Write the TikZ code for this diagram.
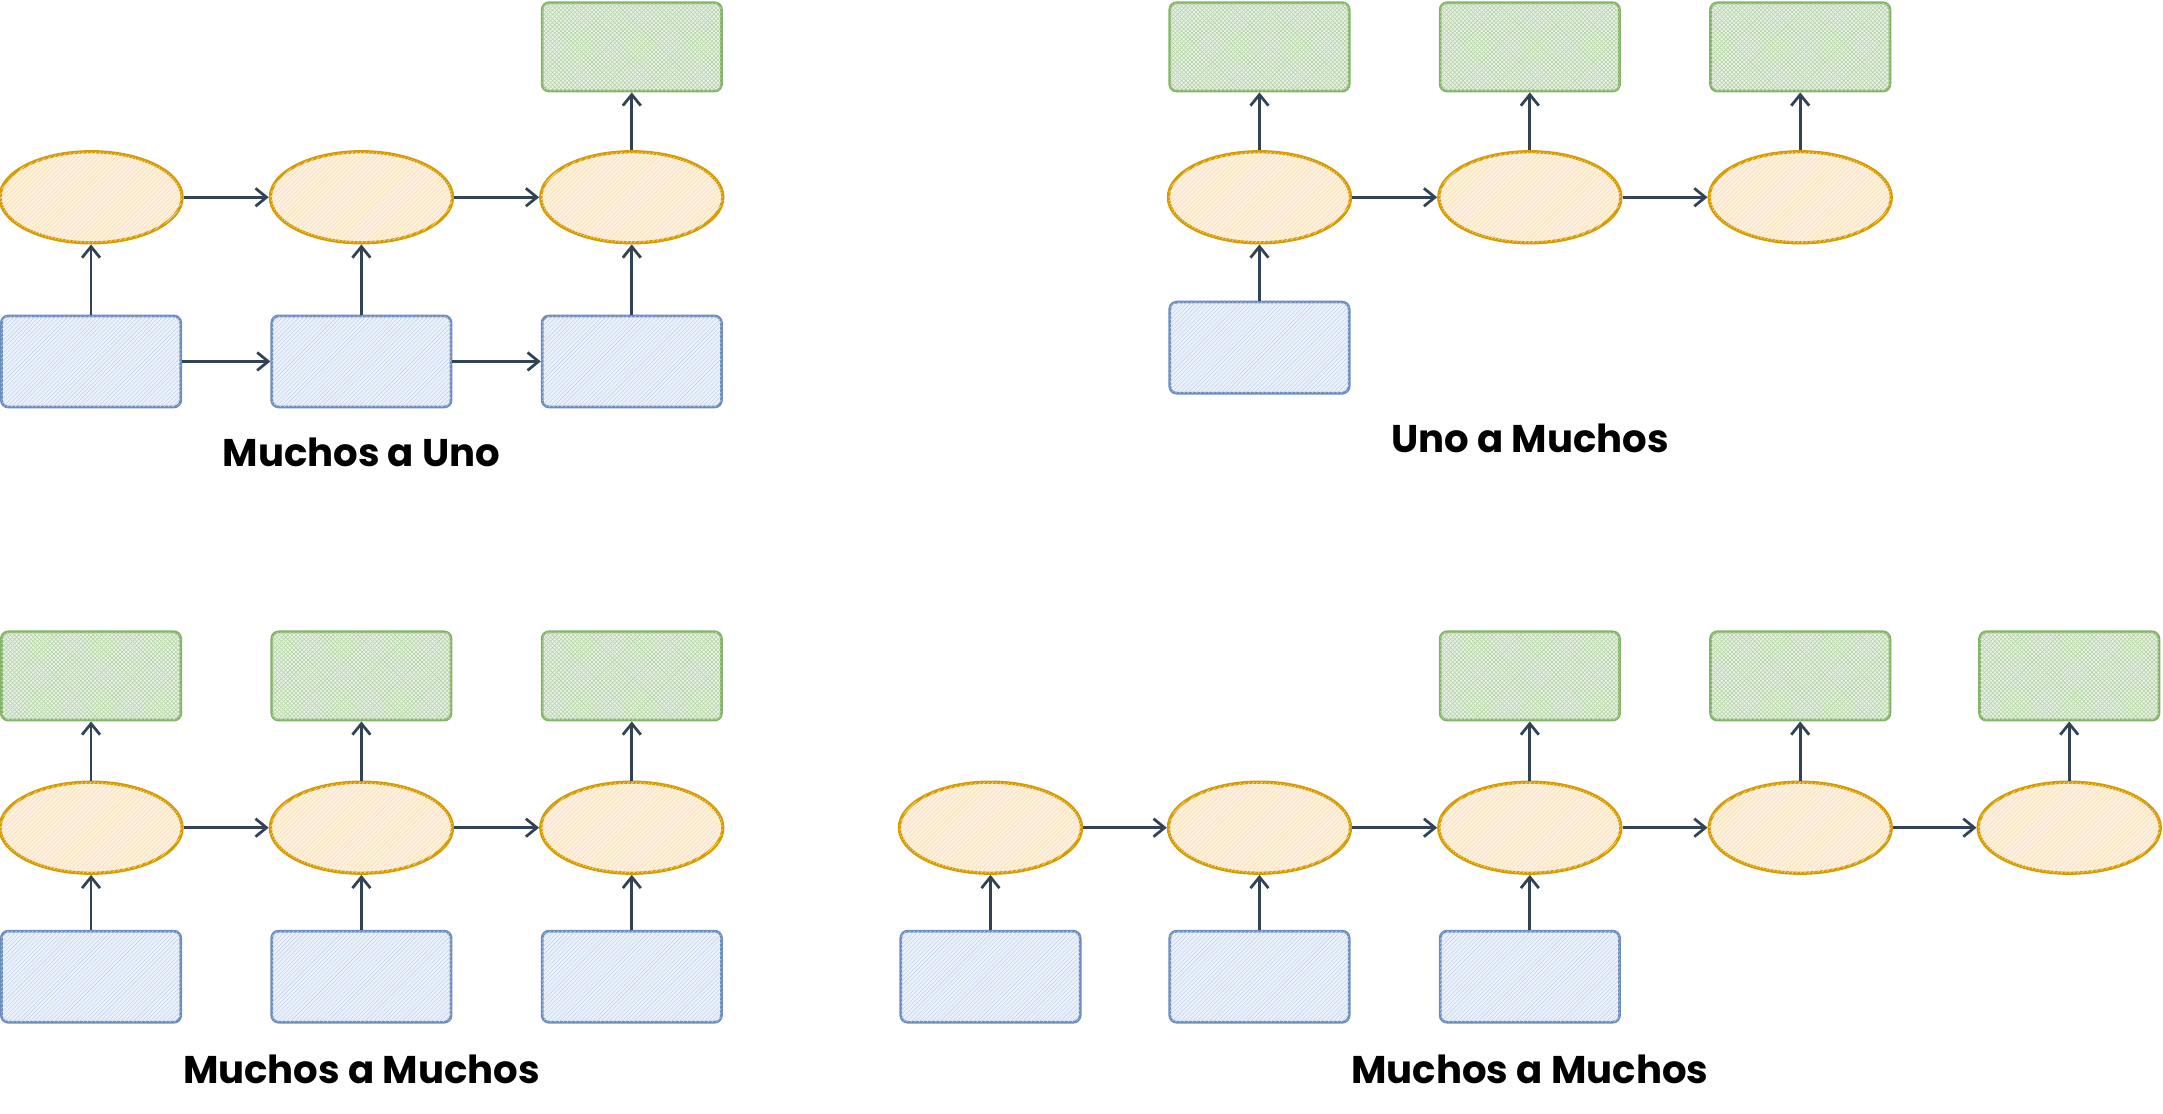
\documentclass[tikz,border=0pt]{standalone}
\usepackage{fontspec}
\setmainfont{Poppins}
\usetikzlibrary{arrows.meta,patterns,shapes.geometric}
\definecolor{bf}{HTML}{DAE8FC}\definecolor{bs}{HTML}{6C8EBF}
\definecolor{of}{HTML}{FFE6CC}\definecolor{os}{HTML}{D79B00}
\definecolor{gf}{HTML}{D5E8D4}\definecolor{gs}{HTML}{82B366}
\definecolor{ar}{HTML}{314354}
\begin{document}
\begin{tikzpicture}[x=1pt,y=-1pt,
 blue/.style={draw=bs,fill=bf!50,line width=2pt,rounded corners=5pt,minimum width=130pt,minimum height=66pt,postaction={pattern=north east lines,pattern color=bs!40}},
 org/.style={ellipse,draw=os,fill=of!60,line width=2.4pt,minimum width=132pt,minimum height=66pt,postaction={pattern=north east lines,pattern color=os!30}},
 grn/.style={draw=gs,fill=gf!50,line width=2pt,rounded corners=5pt,minimum width=130pt,minimum height=64pt,postaction={pattern=crosshatch,pattern color=gs!60}},
 a/.style={draw=ar,line width=2pt,-{Straight Barb[length=8pt,width=13pt]}},
 lbl/.style={font=\fontsize{28}{32}\selectfont\bfseries}]
\useasboundingbox (0,0) rectangle (1568,807);
% Muchos a Uno
\node[blue] (b1) at (66,262) {}; \node[blue] (b2) at (262,262) {}; \node[blue] (b3) at (458,262) {};
\node[org] (o1) at (66,143) {}; \node[org] (o2) at (262,143) {}; \node[org] (o3) at (458,143) {};
\node[grn] (g3) at (458,34) {};
\draw[a] (b1)--(o1); \draw[a] (b2)--(o2); \draw[a] (b3)--(o3);
\draw[a] (b1)--(b2); \draw[a] (b2)--(b3);
\draw[a] (o1)--(o2); \draw[a] (o2)--(o3); \draw[a] (o3)--(g3);
\node[lbl] (t1) at (262,328) {Muchos a Uno};
% Uno a Muchos
\node[grn] (h1) at (913,34) {}; \node[grn] (h2) at (1109,34) {}; \node[grn] (h3) at (1305,34) {};
\node[org] (p1) at (913,143) {}; \node[org] (p2) at (1109,143) {}; \node[org] (p3) at (1305,143) {};
\node[blue] (c1) at (913,252) {};
\draw[a] (c1)--(p1); \draw[a] (p1)--(p2); \draw[a] (p2)--(p3);
\draw[a] (p1)--(h1); \draw[a] (p2)--(h2); \draw[a] (p3)--(h3);
\node[lbl] (t2) at (1109,318) {Uno a Muchos};
% Muchos a Muchos (1)
\node[grn] (i1) at (66,490) {}; \node[grn] (i2) at (262,490) {}; \node[grn] (i3) at (458,490) {};
\node[org] (q1) at (66,600) {}; \node[org] (q2) at (262,600) {}; \node[org] (q3) at (458,600) {};
\node[blue] (d1) at (66,708) {}; \node[blue] (d2) at (262,708) {}; \node[blue] (d3) at (458,708) {};
\draw[a] (d1)--(q1); \draw[a] (d2)--(q2); \draw[a] (d3)--(q3);
\draw[a] (q1)--(i1); \draw[a] (q2)--(i2); \draw[a] (q3)--(i3);
\draw[a] (q1)--(q2); \draw[a] (q2)--(q3);
\node[lbl] (t3) at (262,775) {Muchos a Muchos};
% Muchos a Muchos (2)
\node[grn] (j3) at (1109,490) {}; \node[grn] (j4) at (1305,490) {}; \node[grn] (j5) at (1500,490) {};
\node[org] (r1) at (718,600) {}; \node[org] (r2) at (913,600) {}; \node[org] (r3) at (1109,600) {};
\node[org] (r4) at (1305,600) {}; \node[org] (r5) at (1500,600) {};
\node[blue] (e1) at (718,708) {}; \node[blue] (e2) at (913,708) {}; \node[blue] (e3) at (1109,708) {};
\draw[a] (e1)--(r1); \draw[a] (e2)--(r2); \draw[a] (e3)--(r3);
\draw[a] (r1)--(r2); \draw[a] (r2)--(r3); \draw[a] (r3)--(r4); \draw[a] (r4)--(r5);
\draw[a] (r3)--(j3); \draw[a] (r4)--(j4); \draw[a] (r5)--(j5);
\node[lbl] (t4) at (1109,775) {Muchos a Muchos};
\end{tikzpicture}
\end{document}
